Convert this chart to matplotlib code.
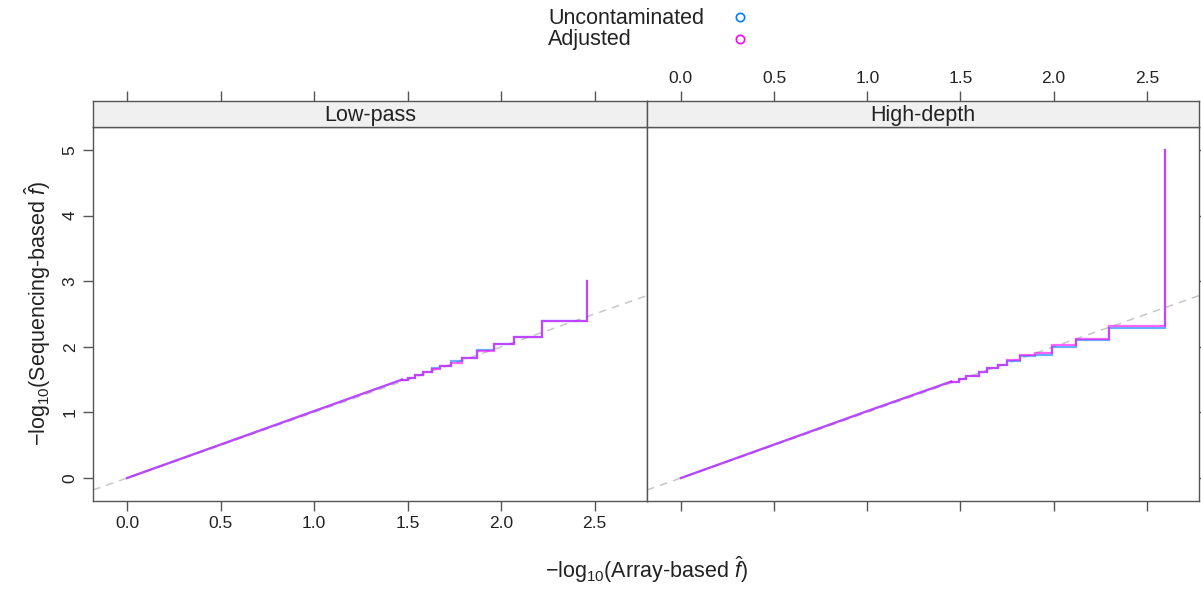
import matplotlib
matplotlib.use('Agg')
import matplotlib.pyplot as plt
from matplotlib.lines import Line2D

plt.rcParams['font.family'] = ['Liberation Sans', 'DejaVu Sans']
plt.rcParams['mathtext.fontset'] = 'custom'
plt.rcParams['mathtext.rm'] = 'Liberation Sans'
plt.rcParams['mathtext.it'] = 'Liberation Sans:italic'

W, H = 1201, 590

PANELS = ["Low-pass", "High-depth"]
SERIES = ["Uncontaminated", "Adjusted"]
SERIES_COLORS = {"Uncontaminated": "#0080ff", "Adjusted": "#ff00ff"}

# smooth part of each panel (sorted quantiles before ties kick in)
lowpass_smooth_x = [0.0, 1.0, 1.47]
lowpass_smooth_y = [0.0, 1.02, 1.50]
highdepth_smooth_x = [0.0, 1.0, 1.45]
highdepth_smooth_y = [0.0, 1.02, 1.47]

# step section: start of each horizontal run and its level; last entry is the final jump
lowpass_x = [1.47, 1.504, 1.540, 1.585, 1.629, 1.674, 1.733, 1.79, 1.87, 1.96, 2.07, 2.22, 2.46]
lowpass_uncont = [1.50, 1.53, 1.565, 1.615, 1.670, 1.70, 1.78, 1.83, 1.955, 2.05, 2.15, 2.39, 3.00]
lowpass_adj = [1.50, 1.53, 1.565, 1.615, 1.667, 1.70, 1.76, 1.83, 1.935, 2.05, 2.15, 2.39, 3.00]

highdepth_x = [1.45, 1.49, 1.53, 1.60, 1.64, 1.70, 1.75, 1.817, 1.898, 1.991, 2.118, 2.298, 2.597]
highdepth_uncont = [1.47, 1.51, 1.56, 1.62, 1.67, 1.72, 1.79, 1.86, 1.88, 1.99, 2.10, 2.28, 5.00]
highdepth_adj = [1.47, 1.51, 1.56, 1.62, 1.67, 1.72, 1.80, 1.87, 1.91, 2.02, 2.12, 2.31, 5.00]

DATA = {
    "Low-pass": ((lowpass_smooth_x, lowpass_smooth_y), lowpass_x,
                 {"Uncontaminated": lowpass_uncont, "Adjusted": lowpass_adj}),
    "High-depth": ((highdepth_smooth_x, highdepth_smooth_y), highdepth_x,
                   {"Uncontaminated": highdepth_uncont, "Adjusted": highdepth_adj}),
}

x_ticks = [0.0, 0.5, 1.0, 1.5, 2.0, 2.5]
y_ticks = [0, 1, 2, 3, 4, 5]
XLIM = (-0.182, 2.78)
YLIM = (-0.35, 5.35)

FRAME = "#555555"
TEXT = "#222222"
STRIP_BG = "#f0f0f0"

fig = plt.figure(figsize=(W / 100, H / 100), dpi=100)


def fx(px):
    return px / W


def fy(py):
    return 1 - py / H


panel_left = [93, 647]
panel_right = [647, 1199]
top_px, bot_px, strip_top = 127, 501, 101

for i, name in enumerate(PANELS):
    l, r = panel_left[i], panel_right[i]
    ax = fig.add_axes([fx(l), fy(bot_px), fx(r - l), fy(top_px) - fy(bot_px)])
    st = fig.add_axes([fx(l), fy(top_px), fx(r - l), fy(strip_top) - fy(top_px)], sharex=ax)

    ax.axline((0, 0), slope=1, color="#c8c8c8", linestyle=(0, (5, 4)), linewidth=1.1, zorder=1)

    (sx, sy), xs, levels = DATA[name]
    for s in SERIES:
        c = SERIES_COLORS[s]
        ax.plot(sx, sy, color=c, alpha=0.6, linewidth=1.6, zorder=2)
        ax.plot(xs, levels[s], drawstyle='steps-post', color=c, alpha=0.6,
                linewidth=1.6, solid_joinstyle='miter', zorder=2)

    ax.set_xlim(*XLIM)
    ax.set_ylim(*YLIM)
    ax.set_xticks(x_ticks)
    ax.set_yticks(y_ticks)
    ax.tick_params(direction='out', length=7, width=1, color=FRAME, labelcolor=TEXT,
                   labelsize=12.5, pad=4)
    ax.tick_params(axis='x', top=False, bottom=True, labelbottom=(i == 0))
    if i == 0:
        ax.tick_params(axis='y', left=True, right=False, labelleft=True)
        for lab in ax.get_yticklabels():
            lab.set_rotation(90)
            lab.set_va('center')
    else:
        ax.tick_params(axis='y', left=False, right=True, labelleft=False)
    ax.set_xticklabels([f"{v:.1f}" for v in x_ticks])
    for sp in ax.spines.values():
        sp.set_color(FRAME)
        sp.set_linewidth(1.0)

    st.set_facecolor(STRIP_BG)
    st.set_ylim(0, 1)
    st.set_yticks([])
    st.tick_params(axis='x', direction='out', length=7, width=1, color=FRAME, labelcolor=TEXT,
                   labelsize=12.5, pad=4, top=True, bottom=False, labelbottom=False,
                   labeltop=(i == 1))
    for sp in st.spines.values():
        sp.set_color(FRAME)
        sp.set_linewidth(1.0)
    st.text(0.5, 0.45, name, transform=st.transAxes, ha='center', va='center',
            fontsize=15.5, color=TEXT)

# axis titles
fig.text(fx(646), fy(570), r'$-\mathrm{log}_{10}$(Array-based $\hat{f}$)', ha='center', va='center',
         fontsize=15.5, color=TEXT)
fig.text(fx(38), fy(314), r'$-\mathrm{log}_{10}$(Sequencing-based $\hat{f}$)', ha='center', va='center',
         rotation=90, fontsize=15.5, color=TEXT)

# key at the top
for j, s in enumerate(SERIES):
    ypx = 18 + j * 22
    fig.text(fx(548), fy(ypx), s, ha='left', va='center', fontsize=15.5, color=TEXT)
    fig.add_artist(Line2D([fx(740)], [fy(ypx - 1)], marker='o', markersize=6, markerfacecolor='none',
                          markeredgecolor=SERIES_COLORS[s], markeredgewidth=1.2, linestyle='none',
                          transform=fig.transFigure))

fig.savefig("out.png", dpi=100, facecolor="white")
